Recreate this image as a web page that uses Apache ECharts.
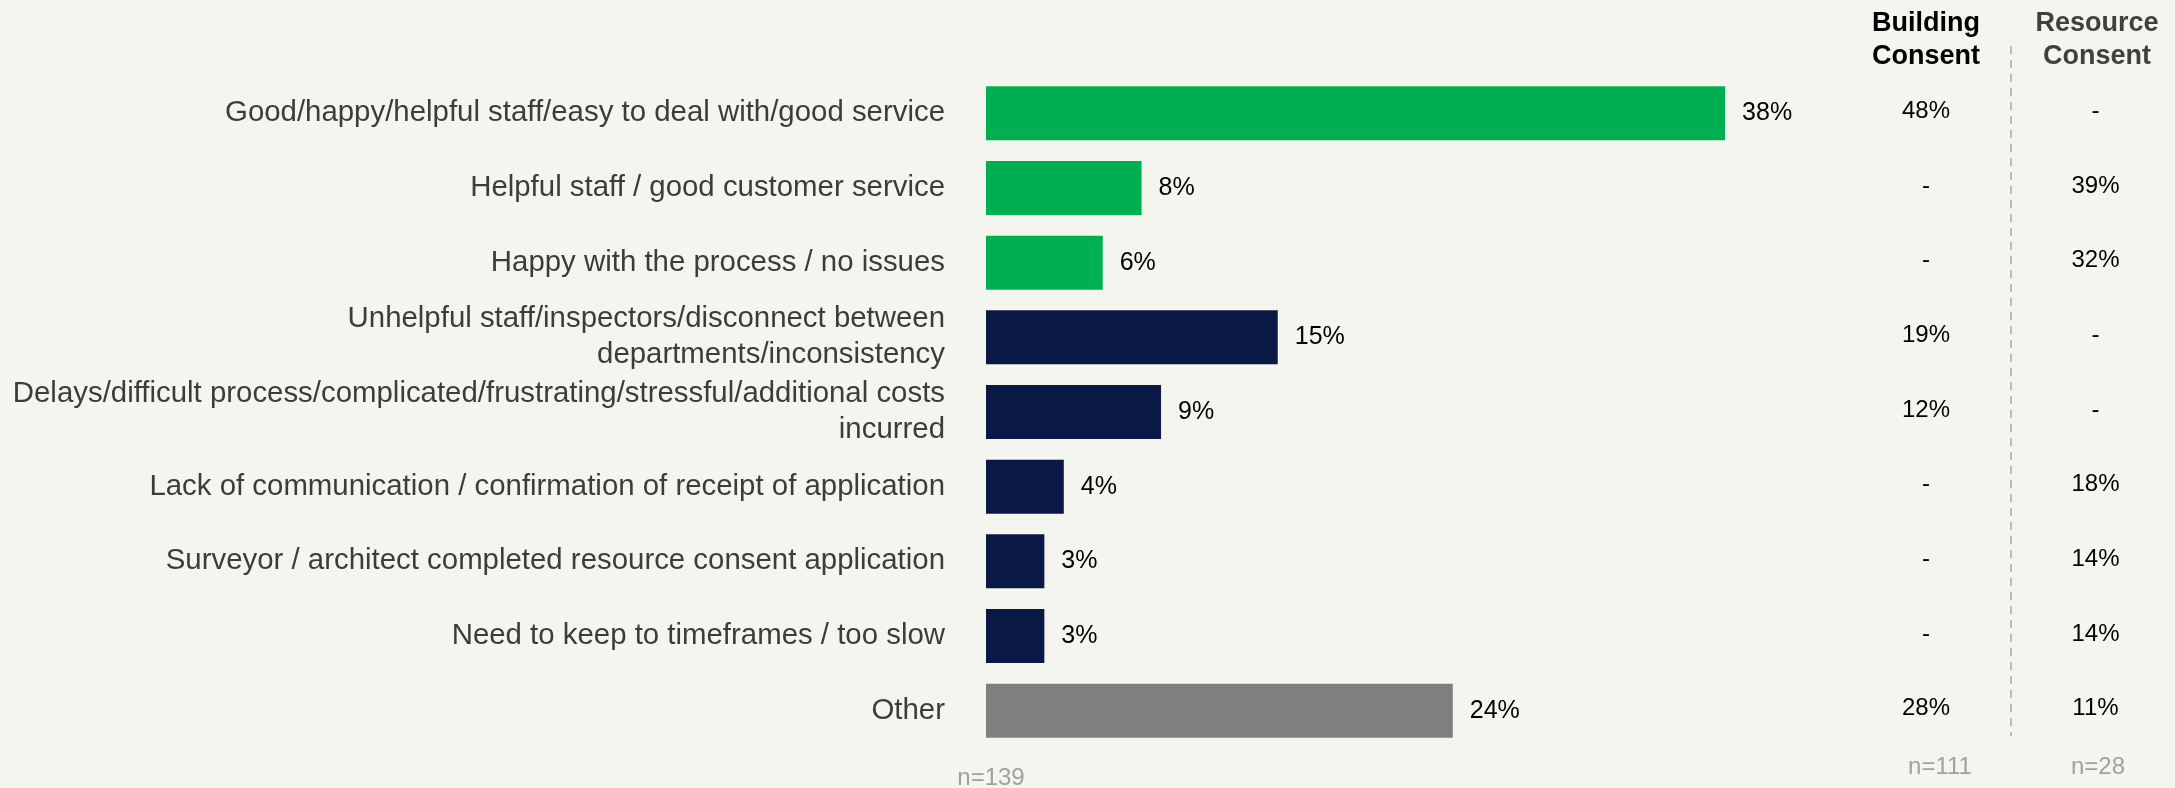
<!DOCTYPE html>
<html>
<head>
<meta charset="utf-8">
<script src="https://cdn.jsdelivr.net/npm/echarts@6/dist/echarts.min.js"></script>
<style>
  html, body { margin: 0; padding: 0; background: #F5F5F0; }
  #chart { width: 2175px; height: 788px; }
</style>
</head>
<body>
<div id="chart"></div>
<script>
// Reasons given for the experience with the consent process
const categories = [
  'Good/happy/helpful staff/easy to deal with/good service',
  'Helpful staff / good customer service',
  'Happy with the process / no issues',
  'Unhelpful staff/inspectors/disconnect between\ndepartments/inconsistency',
  'Delays/difficult process/complicated/frustrating/stressful/additional costs\nincurred',
  'Lack of communication / confirmation of receipt of application',
  'Surveyor / architect completed resource consent application',
  'Need to keep to timeframes / too slow',
  'Other'
];
// Total (n=139)
const totalValues = [38, 8, 6, 15, 9, 4, 3, 3, 24];
// positive / negative / other grouping
const groups = ['positive', 'positive', 'positive', 'negative', 'negative', 'negative', 'negative', 'negative', 'other'];
// Split by consent type; null = no mention
const buildingConsent = [48, null, null, 19, 12, null, null, null, 28];
const resourceConsent = [null, 39, 32, null, null, 18, 14, 14, 11];
const sampleSizes = { total: 139, building: 111, resource: 28 };
const columnHeaders = ['Building\nConsent', 'Resource\nConsent'];

const groupColors = { positive: '#00B050', negative: '#0A1846', other: '#7F7F7F' };
const FONT = '"Liberation Sans", Arial, sans-serif';

const chart = echarts.init(document.getElementById('chart'));

const gridTop = 76, gridHeight = 672;

function columnSeries(values, gridIdx) {
  return {
    type: 'scatter',
    xAxisIndex: gridIdx,
    yAxisIndex: gridIdx,
    symbolSize: 1,
    itemStyle: { color: 'rgba(0,0,0,0)' },
    silent: true,
    data: values.map((v, i) => [0.5, i]),
    label: {
      show: true,
      position: 'inside',
      offset: [0, -2],
      fontFamily: FONT,
      fontSize: 24,
      color: '#000',
      opacity: 1,
      formatter: p => values[p.dataIndex] == null ? '-' : values[p.dataIndex] + '%'
    }
  };
}

const hiddenCat = idx => ({
  type: 'category', gridIndex: idx, data: categories, inverse: true,
  show: false
});
const hiddenVal = idx => ({ type: 'value', gridIndex: idx, min: 0, max: 1, show: false });

chart.setOption({
  backgroundColor: '#F5F5F0',
  animation: false,
  grid: [
    { left: 986, top: gridTop, width: 778, height: gridHeight },
    { left: 1846, top: gridTop, width: 160, height: gridHeight },
    { left: 2016, top: gridTop, width: 160, height: gridHeight }
  ],
  xAxis: [
    { type: 'value', gridIndex: 0, min: 0, max: 40, show: false },
    hiddenVal(1),
    hiddenVal(2)
  ],
  yAxis: [
    {
      type: 'category', gridIndex: 0, data: categories, inverse: true,
      axisLine: { show: false }, axisTick: { show: false },
      axisLabel: {
        margin: 41,
        fontFamily: FONT,
        fontSize: 29.4,
        lineHeight: 36,
        color: '#3C3C3C',
        align: 'right'
      }
    },
    hiddenCat(1),
    hiddenCat(2)
  ],
  series: [
    {
      type: 'bar',
      xAxisIndex: 0, yAxisIndex: 0,
      barWidth: 54,
      data: totalValues.map((v, i) => ({ value: v, itemStyle: { color: groupColors[groups[i]] } })),
      label: {
        show: true,
        position: 'right',
        distance: 17,
        fontFamily: FONT,
        fontSize: 25,
        color: '#000',
        formatter: '{c}%'
      }
    },
    columnSeries(buildingConsent, 1),
    columnSeries(resourceConsent, 2)
  ],
  graphic: [
    {
      type: 'text', x: 1926, y: 40, style: {
        text: columnHeaders[0], fontFamily: FONT, fontSize: 27, fontWeight: 'bold',
        lineHeight: 33, fill: '#000', align: 'center', verticalAlign: 'middle'
      }
    },
    {
      type: 'text', x: 2097, y: 40, style: {
        text: columnHeaders[1], fontFamily: FONT, fontSize: 27, fontWeight: 'bold',
        lineHeight: 33, fill: '#404040', align: 'center', verticalAlign: 'middle'
      }
    },
    {
      type: 'line', shape: { x1: 2011, y1: 46, x2: 2011, y2: 736 },
      style: { stroke: '#A6A6A6', lineWidth: 1.5, lineDash: [8, 6] }
    },
    {
      type: 'text', x: 991, y: 778, style: {
        text: 'n=' + sampleSizes.total, fontFamily: FONT, fontSize: 24,
        fill: '#A0A0A0', align: 'center', verticalAlign: 'middle'
      }
    },
    {
      type: 'text', x: 1940, y: 767, style: {
        text: 'n=' + sampleSizes.building, fontFamily: FONT, fontSize: 24,
        fill: '#A0A0A0', align: 'center', verticalAlign: 'middle'
      }
    },
    {
      type: 'text', x: 2098, y: 767, style: {
        text: 'n=' + sampleSizes.resource, fontFamily: FONT, fontSize: 24,
        fill: '#A0A0A0', align: 'center', verticalAlign: 'middle'
      }
    }
  ]
});
</script>
</body>
</html>
